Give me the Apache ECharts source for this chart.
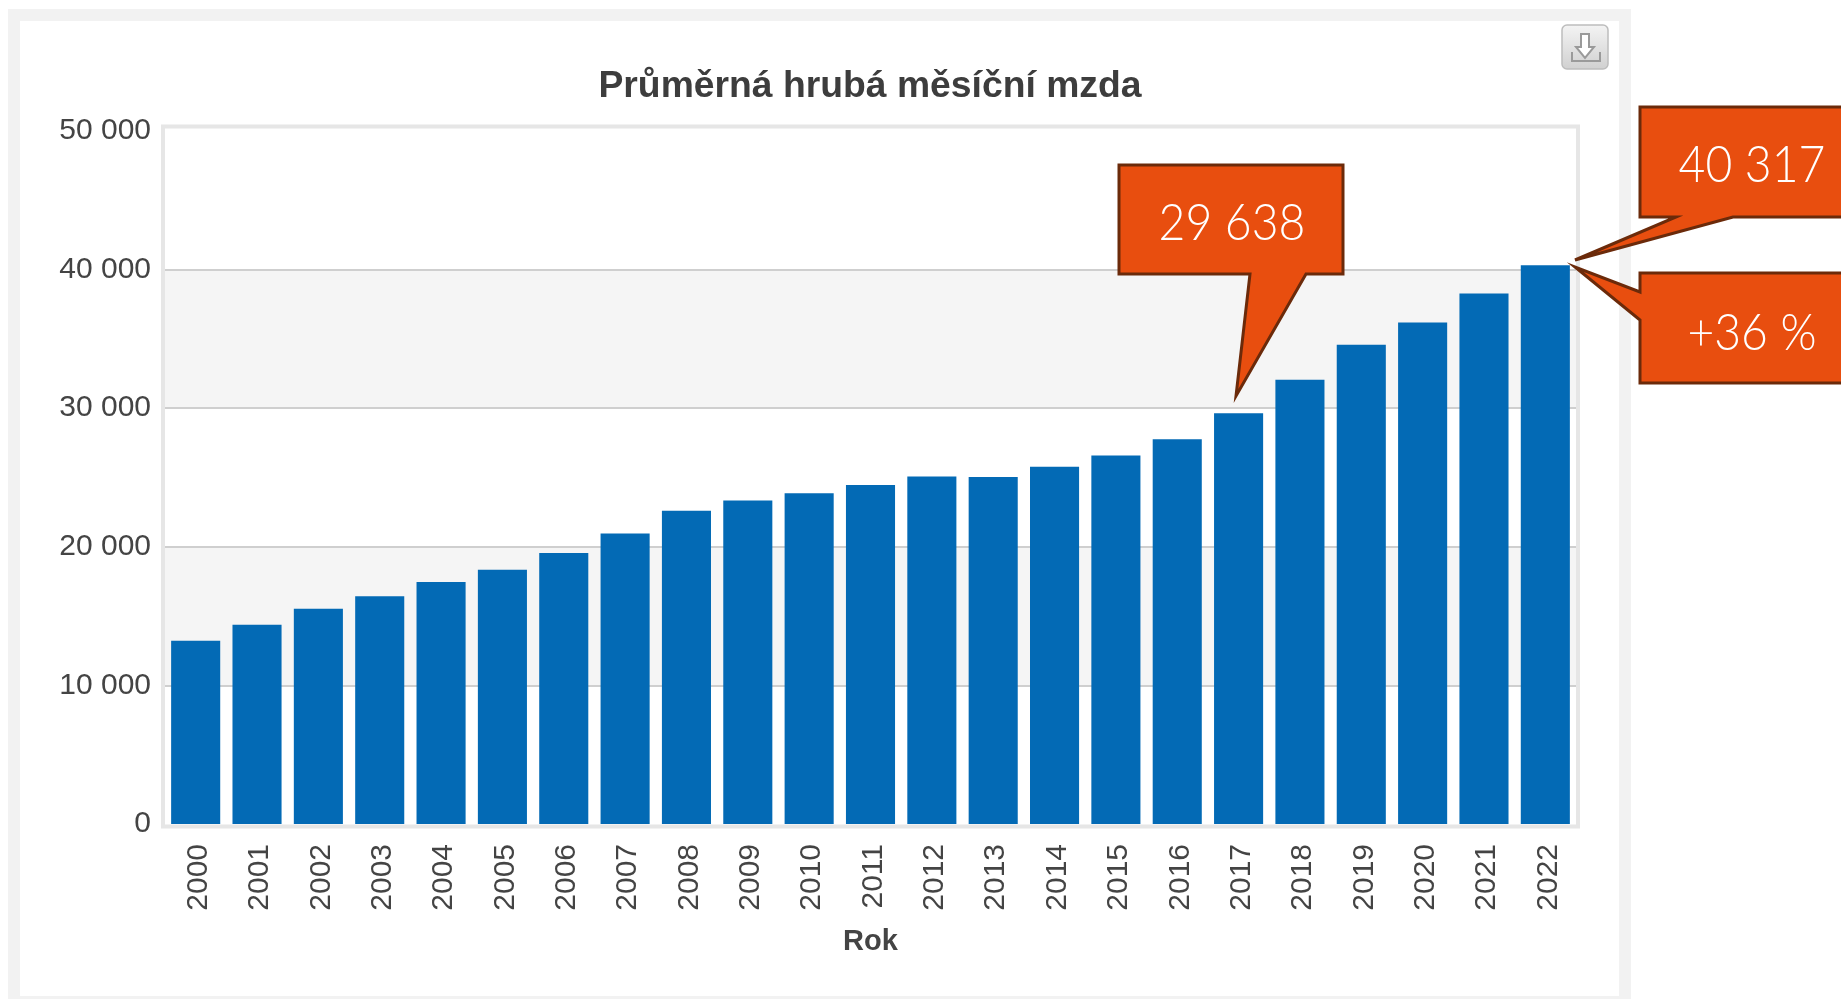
<!DOCTYPE html>
<html><head><meta charset="utf-8">
<style>html,body{margin:0;padding:0;background:#fff}#c{width:1841px;height:999px}</style>
<script src="https://cdn.jsdelivr.net/npm/echarts@6/dist/echarts.min.js"></script>
</head><body><div id="c"></div>
<script>
const years=['2000','2001','2002','2003','2004','2005','2006','2007','2008','2009','2010','2011','2012','2013','2014','2015','2016','2017','2018','2019','2020','2021','2022'];
const wages=[13219,14378,15524,16430,17466,18344,19546,20957,22592,23344,23864,24455,25067,25035,25768,26591,27764,29638,32051,34578,36176,38277,40317];
const titleText='Průměrná hrubá měsíční mzda';
const xName='Rok';
const calloutTexts=['29 638','40 317','+36 %'];
const sans='"Liberation Sans", Arial, sans-serif';
const fill='#e84e0f', edge='#6b2a0a';
function poly(points){return {type:'polygon',z:20,shape:{points},style:{fill,stroke:edge,lineWidth:3,lineJoin:'miter'}};}
function label(text,x,y){return {type:'text',z:21,x,y,scaleX:0.89,style:{text,fill:'#fff',font:'300 52px Lato, sans-serif',textAlign:'center',textVerticalAlign:'middle'}};}
const chart=echarts.init(document.getElementById('c'),null,{renderer:'canvas'});
chart.setOption({
 animation:false,backgroundColor:'#fff',
 title:{text:titleText,left:865,top:63,textAlign:'center',textStyle:{fontFamily:sans,fontSize:37.3,fontWeight:'bold',color:'#3d3d3d'}},
 grid:{left:165,width:1411,top:131,height:693},
 xAxis:{type:'category',data:years,name:xName,nameLocation:'middle',nameGap:103,
  nameTextStyle:{fontFamily:sans,fontSize:29,fontWeight:'bold',color:'#444'},
  axisLine:{show:false},axisTick:{show:false},
  axisLabel:{rotate:90,interval:0,margin:20,fontFamily:sans,fontSize:30,color:'#444',
   formatter:v=>'{a|'+v+'}',rich:{a:{padding:[6,0,0,0],fontFamily:sans,fontSize:30,color:'#444'}}}},
 yAxis:{type:'value',min:0,max:50000,interval:10000,
  axisLine:{show:false},axisTick:{show:false},
  axisLabel:{margin:14,fontFamily:sans,fontSize:30,color:'#444',formatter:v=>String(v).replace(/\B(?=(\d{3})+$)/g,' ')},
  splitLine:{show:true,showMinLine:false,showMaxLine:false,lineStyle:{color:'#cfcfcf',width:2}},
  splitArea:{show:true,areaStyle:{color:['#ffffff','#f5f5f5','#ffffff','#f5f5f5','#ffffff']}}},
 series:[{type:'bar',data:wages,barCategoryGap:'20%',itemStyle:{color:'#036ab5'},z:5}],
 graphic:[
  {type:'rect',silent:true,z:0,shape:{x:14,y:15,width:1611,height:987},style:{fill:'none',stroke:'#f2f2f2',lineWidth:12}},
  {type:'rect',silent:true,z:1,shape:{x:163,y:126.5,width:1415,height:700},style:{fill:'none',stroke:'#e6e6e6',lineWidth:4}},
  {type:'group',z:10,children:[
   {type:'rect',shape:{x:1562,y:25,width:46,height:44,r:5},style:{stroke:'#bdbdbd',lineWidth:1.5,fill:new echarts.graphic.LinearGradient(0,0,0,1,[{offset:0,color:'#f4f4f4'},{offset:1,color:'#d0d0d0'}])}},
   {type:'polyline',shape:{points:[[1572,52],[1572,61],[1600,61],[1600,52]]},style:{fill:'none',stroke:'#9a9a9a',lineWidth:2}},
   {type:'polygon',shape:{points:[[1581,34],[1589,34],[1589,47],[1594,47],[1585,58],[1576,47],[1581,47]]},style:{fill:'#fff',stroke:'#9a9a9a',lineWidth:2}}
  ]},
  poly([[1119,165],[1343,165],[1343,274],[1306,274],[1236,396],[1250,274],[1119,274]]),
  poly([[1640,107],[1850,107],[1850,217],[1733,217],[1575,260],[1676,217],[1640,217]]),
  poly([[1640,273],[1850,273],[1850,383],[1640,383],[1640,320],[1575,267],[1640,292]]),
  label(calloutTexts[0],1232,223),
  label(calloutTexts[1],1752,165),
  label(calloutTexts[2],1752,333)
 ]
});
</script></body></html>
